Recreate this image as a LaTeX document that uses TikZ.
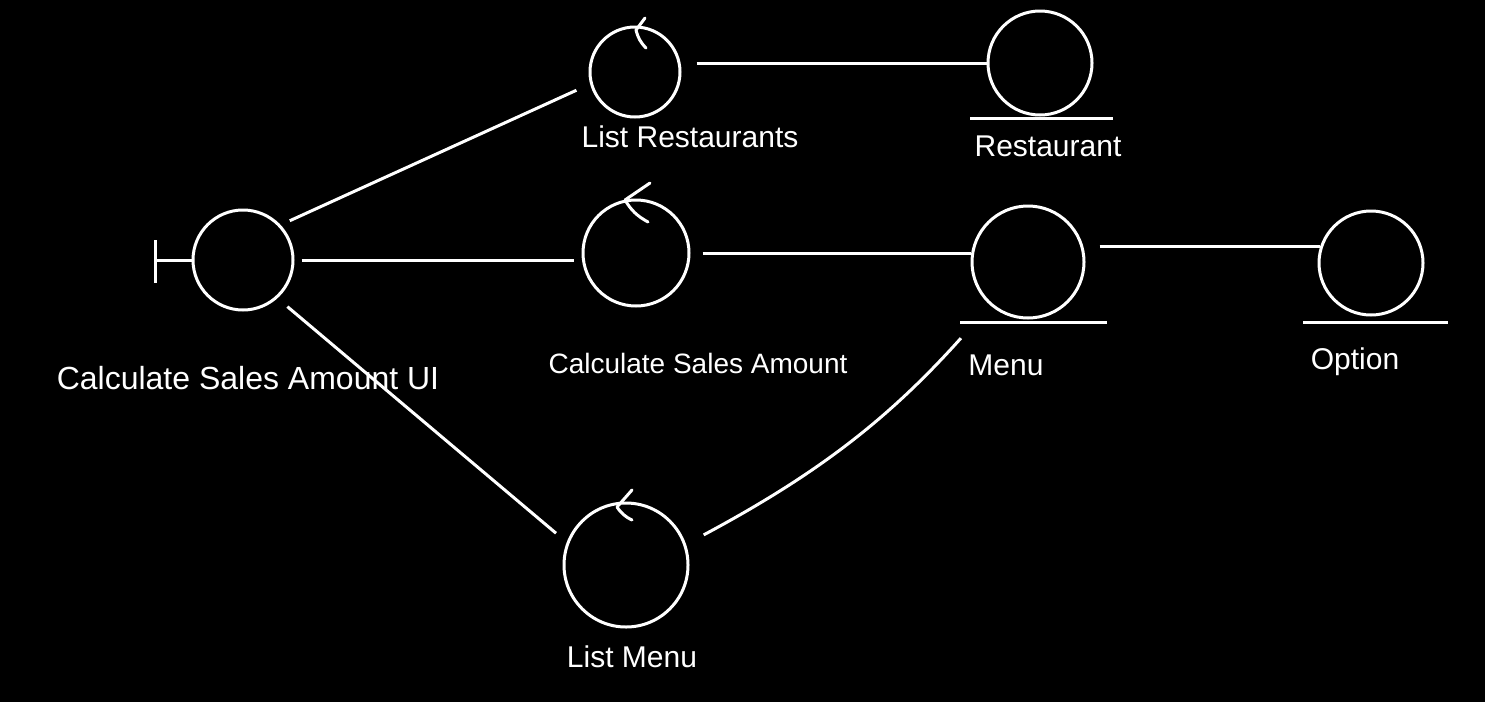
\documentclass[tikz,border=0pt]{standalone}
\usepackage{fontspec}
\setmainfont{Liberation Sans}
\begin{document}
\begin{tikzpicture}[x=1pt,y=-1pt,
  conn/.style={draw=white,line width=3pt},
  obj/.style={circle,draw=white,line width=3pt,inner sep=0pt},
  ctlmark/.style={draw=white,line width=3pt,line cap=round,line join=round},
  lbl/.style={text=white,inner sep=0pt,font=\fontsize{30}{36}\selectfont}]
\fill[black] (0,0) rectangle (1485,702);
\useasboundingbox (0,0) rectangle (1485,702);
% objects
\node[obj,minimum size=100pt] (ui) at (243,260) {};
\node[obj,minimum size=90pt] (lr) at (635,72) {};
\node[obj,minimum size=104pt] (rest) at (1040,63) {};
\node[obj,minimum size=106pt] (csa) at (636,253) {};
\node[obj,minimum size=112pt] (menu) at (1028,262) {};
\node[obj,minimum size=104pt] (opt) at (1371,263) {};
\node[obj,minimum size=124pt] (lm) at (626,565) {};
% boundary bar
\coordinate (bt) at (155,240);
\coordinate (bb) at (155,283);
\draw[conn] (bt) -- (bb);
\draw[conn] (ui.west) -- (ui.west -| bt);
% entity underlines
\draw[conn] ([shift={(-70,2)}]rest.south) -- ([shift={(73,2)}]rest.south);
\draw[conn] ([shift={(-68,3)}]menu.south) -- ([shift={(79,3)}]menu.south);
\draw[conn] ([shift={(-68,6)}]opt.south) -- ([shift={(77,6)}]opt.south);
% control arrows
\draw[ctlmark] ([shift={(10,-54)}]lr.center) -- ([shift={(1,-42)}]lr.center) to[bend right=15] ([shift={(11,-24)}]lr.center);
\draw[ctlmark] ([shift={(14,-70)}]csa.center) -- ([shift={(-11,-53)}]csa.center) to[bend right=15] ([shift={(12,-31)}]csa.center);
\draw[ctlmark] ([shift={(6,-75)}]lm.center) -- ([shift={(-9,-58)}]lm.center) to[bend right=15] ([shift={(6,-45)}]lm.center);
% connectors
\draw[conn,shorten <=10pt,shorten >=15pt] (ui.43) -- (lr.195);
\draw[conn,shorten <=7pt,shorten >=8pt] (ui.east) -- (ui.east -| csa.west);
\draw[conn,shorten <=13pt,shorten >=14pt] (ui.-48) -- (lm.159);
\draw[conn,shorten <=15pt] (lr.east |- rest.west) -- (rest.west);
\draw[conn,shorten <=12pt] (csa.east) -- (csa.east -| menu.west);
\draw[conn,shorten <=14pt] (menu.east |- opt.162) -- (opt.162);
\draw[conn,shorten <=44pt,shorten >=20pt] (menu.229) to[bend left=10] (lm.19);
% labels
\node[lbl,font=\fontsize{32}{38}\selectfont] (uil) at (248,378) {Calculate Sales Amount UI};
\node[lbl] (lrl) at (690,137) {List Restaurants};
\node[lbl] (restl) at (1048,146) {Restaurant};
\node[lbl,font=\fontsize{28}{34}\selectfont] (csal) at (698,363) {Calculate Sales Amount};
\node[lbl] (menul) at (1006,365) {Menu};
\node[lbl] (optl) at (1355,362) {Option};
\node[lbl] (lml) at (632,657) {List Menu};
\end{tikzpicture}
\end{document}
